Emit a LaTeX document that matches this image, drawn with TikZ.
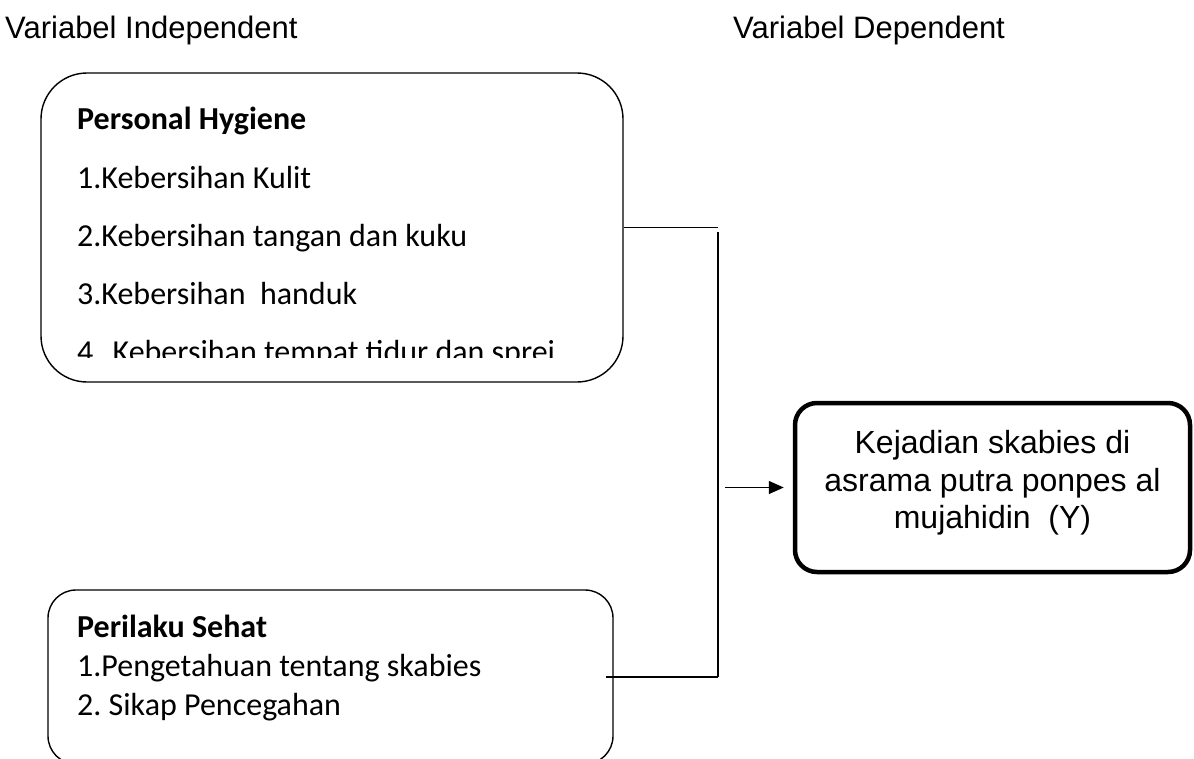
\documentclass[tikz,border=0pt]{standalone}
\usepackage{fontspec}
\setmainfont{Carlito}
\newfontfamily\arialf{Liberation Sans}
\usetikzlibrary{arrows.meta}
\frenchspacing
\begin{document}
\begin{tikzpicture}[x=1pt,y=-1pt,
  thinline/.style={line width=1.4pt, black},
  varbox/.style={draw, line width=1.4pt, rectangle, inner sep=0pt},
  itemtext/.style={anchor=base west, inner sep=0pt, font=\fontsize{32}{39}\selectfont},
  headtext/.style={anchor=base west, inner sep=0pt, font=\arialf\fontsize{31}{36}\selectfont},
  outbox/.style={draw, line width=4.5pt, rectangle, rounded corners=22pt, inner sep=0pt,
    minimum width=395pt, minimum height=169pt},
  outtext/.style={align=center, inner sep=0pt, font=\arialf\fontsize{32}{37.5}\selectfont}
]
\useasboundingbox (0,0) rectangle (1194,758);

% headers
\node[headtext] (h1) at (5,38) {Variabel Independent};
\node[headtext] (h2) at (733,38) {Variabel Dependent};

% top box
\node[varbox, rounded corners=46pt, minimum width=582pt, minimum height=309pt] (ph) at (332,227.5) {};
\node[itemtext, font=\bfseries\fontsize{32}{39}\selectfont] (ph0) at (77,129) {Personal Hygiene};
\node[itemtext] (ph1) at (77,188) {1.Kebersihan Kulit};
\node[itemtext] (ph2) at (77,246) {2.Kebersihan tangan dan kuku};
\node[itemtext] (ph3) at (77,304) {3.Kebersihan\ \ handuk};
\begin{scope}
  \clip (0,0) rectangle (1194,357);
  \node[itemtext] (ph4) at (77,362) {4.\hspace{0.35em}Kebersihan tempat tidur dan sprei};
\end{scope}

% bottom box
\node[varbox, rounded corners=28pt, minimum width=565pt, minimum height=174pt] (ps) at (330.5,677) {};
\node[itemtext, font=\bfseries\fontsize{32}{39}\selectfont] (ps0) at (77,637) {Perilaku Sehat};
\node[itemtext] (ps1) at (77,676) {1.Pengetahuan tentang skabies};
\node[itemtext] (ps2) at (77,715) {2. Sikap Pencegahan};

% outcome box
\node[outbox] (y) at (992.5,487.5) {};
\node[outtext] (yt) at (992.5,483) {Kejadian skabies di\\asrama putra ponpes al\\mujahidin\ \ (Y)};

% connectors
\coordinate (j1) at (718,227.5);
\coordinate (j2) at (718,232);
\coordinate (j3) at (718,677);
\coordinate (s0) at ([xshift=-8pt]ps.east);
\coordinate (a0) at (725,487.5);
\coordinate (a1) at ([xshift=-9pt]y.west);
\draw[thinline] (ph.east) -- (j1);
\draw[thinline] (j2) -- (j3);
\draw[thinline] (s0) -- (j3);
\draw[thinline, -{Triangle[length=15pt,width=13pt]}] (a0) -- (a1);
\end{tikzpicture}
\end{document}
